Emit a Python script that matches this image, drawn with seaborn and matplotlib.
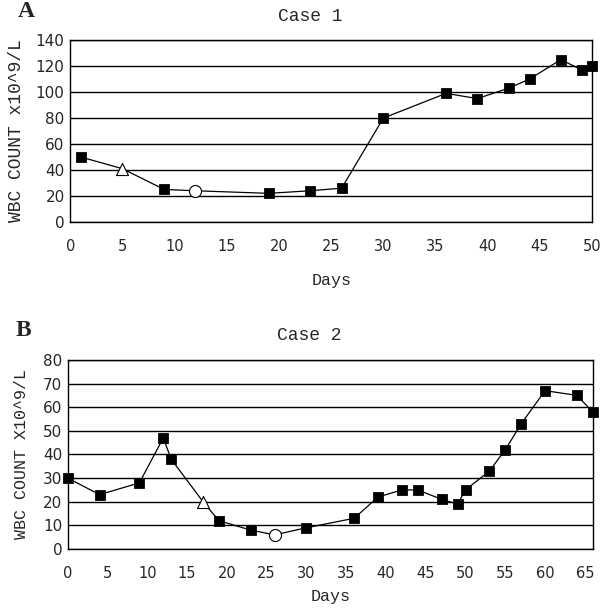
import matplotlib
matplotlib.use("Agg")
import matplotlib.pyplot as plt
import seaborn as sns
import pandas as pd

# Case 1 data
days1 = [1, 5, 9, 12, 19, 23, 26, 30, 36, 39, 42, 44, 47, 49, 50]
wbc1 = [50, 41, 25, 24, 22, 24, 26, 80, 99, 95, 103, 110, 125, 117, 120]
kind1 = ["sq", "tri", "sq", "circ", "sq", "sq", "sq", "sq", "sq", "sq", "sq", "sq", "sq", "sq", "sq"]

# Case 2 data
days2 = [0, 4, 9, 12, 13, 17, 19, 23, 26, 30, 36, 39, 42, 44, 47, 49, 50, 53, 55, 57, 60, 64, 66]
wbc2 = [30, 23, 28, 47, 38, 20, 12, 8, 6, 9, 13, 22, 25, 25, 21, 19, 25, 33, 42, 53, 67, 65, 58]
kind2 = ["sq"] * 5 + ["tri", "sq", "sq", "circ"] + ["sq"] * 14

sns.set_style("white")
mono = "Liberation Mono"

fig = plt.figure(figsize=(6, 6.08), dpi=100)


def panel(ax, days, wbc, kind, title, ylabel, xmax, xticks, ymax, ystep, letter,
          ylsize, ylpad, xlpad):
    df = pd.DataFrame({"Days": days, "WBC": wbc, "kind": kind})
    sns.lineplot(data=df, x="Days", y="WBC", ax=ax, color="black", lw=0.9, zorder=3)
    sq = df[df.kind == "sq"]
    sns.scatterplot(data=sq, x="Days", y="WBC", ax=ax, marker="s", s=50,
                    color="black", edgecolor="black", zorder=4, clip_on=False)
    for k, m in (("tri", "^"), ("circ", "o")):
        sub = df[df.kind == k]
        sns.scatterplot(data=sub, x="Days", y="WBC", ax=ax, marker=m, s=75,
                        facecolor="white", edgecolor="black", linewidth=0.8, zorder=4)
    ax.set_xlim(0, xmax)
    ax.set_ylim(0, ymax)
    ax.set_xticks(xticks)
    ax.set_yticks(range(0, ymax + 1, ystep))
    ax.yaxis.grid(True, color="black", lw=1.0)
    ax.xaxis.grid(False)
    for s in ax.spines.values():
        s.set_color("black")
        s.set_linewidth(1.0)
    ax.tick_params(axis="x", direction="out", length=4, width=1, color="black",
                   labelsize=10.5, pad=8)
    ax.tick_params(axis="y", length=0, labelsize=11, pad=4)
    ax.set_xlabel("Days", family=mono, fontsize=12, labelpad=xlpad)
    ax.set_ylabel(ylabel, family=mono, fontsize=ylsize, labelpad=ylpad)
    ax.set_title(title, family=mono, fontsize=13, pad=14, x=0.46)
    ax.text(-0.085, 1.155, letter, transform=ax.transAxes, family="Liberation Serif",
            fontweight="bold", fontsize=17, va="center", ha="center")


ax1 = fig.add_axes([0.117, 0.635, 0.870, 0.299])
panel(ax1, days1, wbc1, kind1, "Case 1", "WBC COUNT x10^9/L", 50,
      list(range(0, 51, 5)), 140, 20, "A", 13, 8, 14)

ax2 = fig.add_axes([0.113, 0.097, 0.875, 0.311])
panel(ax2, days2, wbc2, kind2, "Case 2", "WBC COUNT X10^9/L", 66,
      list(range(0, 66, 5)), 80, 10, "B", 12, 10, 6)

fig.savefig("out.png", dpi=100, facecolor="white")
